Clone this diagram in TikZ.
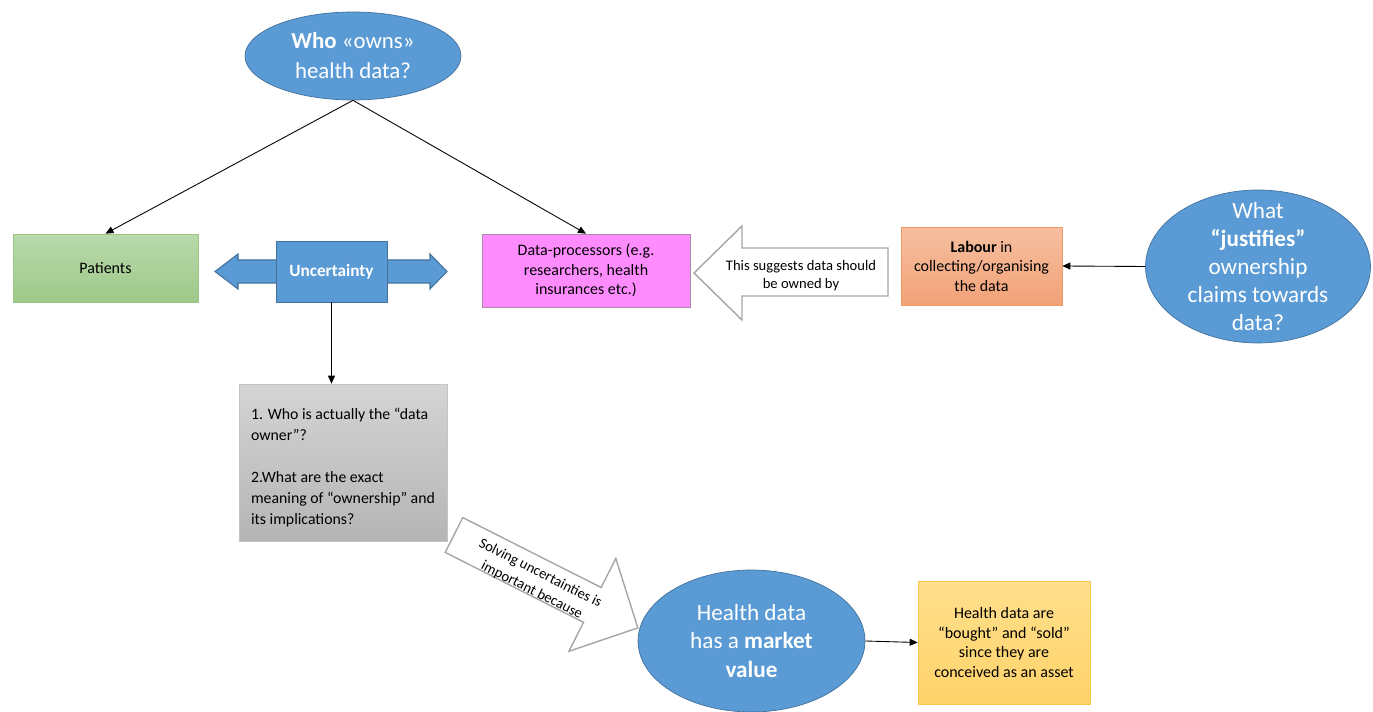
\documentclass[tikz,border=0pt]{standalone}
\usepackage{fontspec}
\setmainfont{Carlito}
\usetikzlibrary{shapes.geometric,arrows.meta}

\definecolor{qblue}{HTML}{5B9BD5}
\definecolor{qblueline}{HTML}{41719C}
\definecolor{greentop}{HTML}{B9D9AA}
\definecolor{greenbot}{HTML}{9FC98A}
\definecolor{greenline}{HTML}{9CC485}
\definecolor{pinkfill}{HTML}{FF8CFF}
\definecolor{pinkline}{HTML}{A98AA9}
\definecolor{orangetop}{HTML}{F6BFA0}
\definecolor{orangebot}{HTML}{F3A278}
\definecolor{orangeline}{HTML}{EE9A66}
\definecolor{graytop}{HTML}{D4D4D4}
\definecolor{graybot}{HTML}{B5B5B5}
\definecolor{yellowtop}{HTML}{FFDF8C}
\definecolor{yellowbot}{HTML}{FFD36A}
\definecolor{yellowline}{HTML}{F7C94A}
\definecolor{hollowgray}{HTML}{A6A6A6}

\begin{document}
\begin{tikzpicture}[x=0.02cm,y=-0.02cm,
    link/.style={draw=black,line width=0.5pt,-{Triangle[length=1.6mm,width=1.4mm]}},
    box/.style={rectangle,align=center,inner sep=2pt,font=\fontsize{9.1}{11.1}\selectfont},
    bubble/.style={ellipse,draw=qblueline,fill=qblue,text=white,align=center,inner sep=0pt,
      font=\fontsize{13.2}{16}\selectfont},
    hollow/.style={draw=hollowgray,fill=white,line width=0.8pt}]

  \useasboundingbox (0,0) rectangle (1373,712);

  % questions
  \node[bubble,minimum width=4.32cm,minimum height=1.76cm,font=\fontsize{13}{17}\selectfont]
    (who) at (353,56) {\textbf{Who} «owns»\\health data?};
  \node[bubble,inner ysep=-9pt,minimum width=4.5cm,minimum height=3.06cm] (justify)
    at (1258,266.5) {What\\\textbf{“justifies”}\\ownership\\claims towards\\data?};
  \node[bubble,minimum width=4.54cm,minimum height=2.84cm] (market) at (751.5,641)
    {Health data\\has a \textbf{market}\\\textbf{value}};

  % owners
  \node[box,draw=greenline,top color=greentop,bottom color=greenbot,
    minimum width=3.7cm,minimum height=1.36cm] (patients) at (105.5,268) {Patients};
  \node[box,draw=pinkline,fill=pinkfill,minimum width=4.16cm,minimum height=1.46cm]
    (proc) at (586,270.5) {Data-processors (e.g.\\researchers, health\\insurances etc.)};

  % uncertainty with double arrow
  \draw[fill=qblue,draw=qblueline,line width=0.6pt] (215,271.5) -- (238,254) -- (238,260)
    -- (430,260) -- (430,254) -- (447,271.5) -- (430,289) -- (430,283)
    -- (238,283) -- (238,289) -- cycle;
  \node[box,draw=qblueline,fill=qblue,text=white,minimum width=2.22cm,minimum height=1.22cm,
    font=\fontsize{9.8}{12}\selectfont] (unc) at (331.5,271.5) {\textbf{Uncertainty}};

  \node[box,draw=graybot!80,top color=graytop,bottom color=graybot,minimum width=4.16cm,
    minimum height=3.14cm,align=left,font=\fontsize{9}{12}\selectfont] (questions)
    at (343,462.5) {\rule{0pt}{12pt}1. Who is actually the “data\\owner”?\\[12pt]2.What are the exact\\meaning of “ownership” and\\its implications?};

  \node[box,draw=orangeline,top color=orangetop,bottom color=orangebot,
    minimum width=3.22cm,minimum height=1.56cm] (labour) at (981.5,266)
    {\textbf{Labour} in\\collecting/organising\\the data};
  \node[box,draw=yellowline,top color=yellowtop,bottom color=yellowbot,
    minimum width=3.44cm,minimum height=2.46cm] (asset) at (1004,642.5)
    {Health data are\\“bought” and “sold”\\since they are\\conceived as an asset};

  % hollow arrows
  \draw[hollow] (694,273) -- (742,226) -- (742,248) -- (888,248) -- (888,296)
    -- (742,296) -- (742,320) -- cycle;
  \node[align=center,font=\fontsize{8.3}{10.3}\selectfont] (suggests) at (801,276)
    {This suggests data should\\be owned by};

  \begin{scope}[shift={(454,535)},rotate=-26.8]
    \draw[hollow] (0,-19.5) -- (155,-19.5) -- (155,-52) -- (206,0) -- (155,52)
      -- (155,19.5) -- (0,19.5) -- cycle;
  \end{scope}
  \node[align=center,rotate=-26.8,font=\fontsize{8.3}{10.8}\selectfont] (solving)
    at (536,582) {Solving uncertainties is\\important because};

  % connectors
  \draw[link] (who.south) -- (patients.north);
  \draw[link] (who.south) -- (proc.north);
  \draw[link] (unc.south) -- (unc.south |- questions.north);
  \draw[link] (justify.west) -- (labour.east);
  \draw[link] (market.east) -- (asset.west);
\end{tikzpicture}
\end{document}
